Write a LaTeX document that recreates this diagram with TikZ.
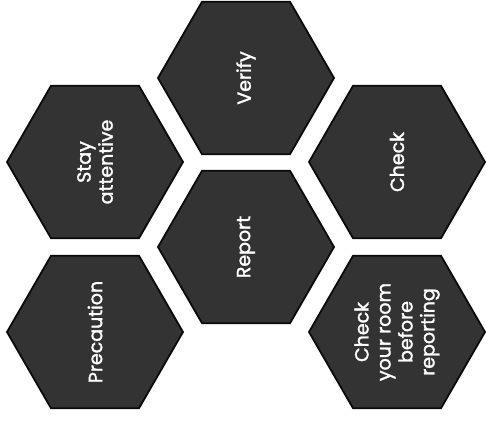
\documentclass[tikz,border=0pt]{standalone}
\usepackage{fontspec}
\setmainfont{Poppins}[BoldFont=Poppins,BoldFeatures={FakeBold=1.6}]
\usepackage{tikz}
\usepackage{xcolor}
\usetikzlibrary{shapes.geometric}
\definecolor{hexfill}{HTML}{333333}
\definecolor{hexline}{HTML}{0A0A0A}
\tikzset{
  hexcell/.style={regular polygon,regular polygon sides=6,
                  shape border rotate=90,rotate=90,
                  minimum size=176pt,inner sep=0pt,
                  draw=hexline,fill=hexfill,line width=1.8pt,
                  text=white,align=center,
                  font=\fontsize{19}{22}\selectfont\bfseries}
}
\begin{document}
\begin{tikzpicture}[x=1pt,y=-1pt]
  \path[use as bounding box] (0,0) rectangle (486,421);
  % middle column
  \node[hexcell] (verify) at (246,78) {Verify};
  \node[hexcell] (report) at (246,247) {Report};
  % left column
  \node[hexcell] (attentive) at (95,162) {Stay\\attentive};
  \node[hexcell] (precaution) at (95,332) {Precaution};
  % right column
  \node[hexcell] (check) at (397,162) {Check};
  \node[hexcell] (roomcheck) at (397,332)
    {Check\\your room\\before\\reporting};
\end{tikzpicture}
\end{document}
